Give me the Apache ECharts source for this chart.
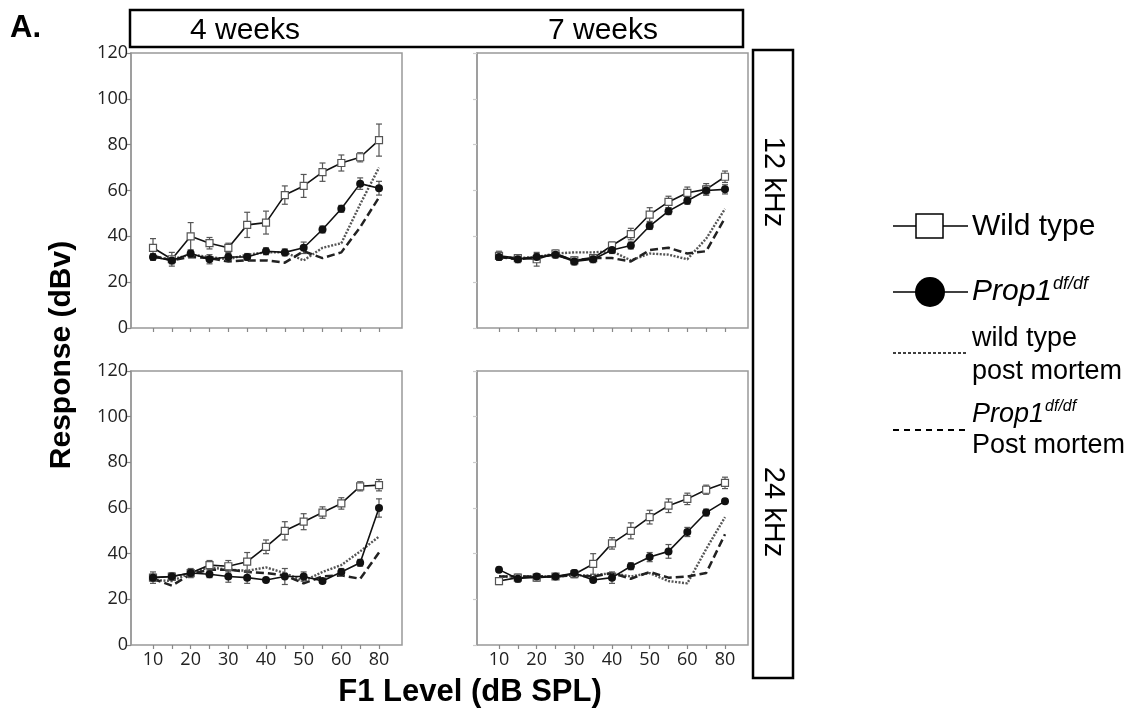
<!DOCTYPE html>
<html>
<head>
<meta charset="utf-8">
<script src="https://cdn.jsdelivr.net/npm/echarts@6/dist/echarts.min.js"></script>
<style>
  html, body { margin: 0; padding: 0; background: #fff; }
  #chart { width: 1142px; height: 717px; }
</style>
</head>
<body>
<div id="chart"></div>
<script>
// F1 levels (dB SPL) - category ticks
var levels = ['10', '15', '20', '25', '30', '35', '40', '45', '50', '55', '60', '70', '80'];
var yTicks = [0, 20, 40, 60, 80, 100, 120];

// 4 weeks, 12 kHz
var wt4w12 = [35, 30, 40, 37, 35, 45, 46, 58, 62, 68, 72, 74.5, 82];
var wt4w12Err = [4, 3, 6, 2.5, 2, 5.5, 5, 4, 5, 4, 3.5, 2, 7];
var df4w12 = [31, 29.5, 32.5, 30, 31, 31, 33.5, 33, 35, 43, 52, 63, 61];
var df4w12Err = [1.5, 1.5, 1.5, 2, 1.5, 1.5, 1.5, 1.5, 2.5, 1.5, 1.5, 2.5, 3];
var wtPm4w12 = [31, 30, 32, 31, 30, 32, 33, 33, 29.5, 35, 37, 54, 70];
var dfPm4w12 = [31.5, 29.5, 31, 30.5, 29, 29.5, 29.5, 28.5, 33.5, 30.5, 33, 44, 57];

// 7 weeks, 12 kHz
var wt7w12 = [31.5, 30.5, 30, 32.5, 29.5, 30.5, 36, 41, 49.5, 55, 59, 60.5, 66];
var wt7w12Err = [2, 1.5, 3, 1.5, 1.5, 1.5, 1.5, 2.5, 3, 2.5, 2.5, 2.5, 2.5];
var df7w12 = [31, 30, 31, 32, 29, 30, 34, 36, 44.5, 51, 55.5, 60, 60.5];
var df7w12Err = [1.5, 1.5, 1.5, 1.5, 1.5, 1.5, 1.5, 1.5, 1.5, 1.5, 1.5, 2, 2];
var wtPm7w12 = [31, 30.5, 31, 32.5, 33, 33, 33.5, 29.5, 32.5, 32, 30, 39, 52];
var dfPm7w12 = [31, 30, 31, 32, 29.5, 30.5, 30.5, 29, 34, 35, 32.5, 33.5, 48];

// 4 weeks, 24 kHz
var wt4w24 = [29.5, 30, 31.5, 35, 34.5, 36.5, 43, 50, 54, 58, 62, 69.5, 70];
var wt4w24Err = [2.5, 1.5, 2, 2, 2.5, 4, 3, 4, 3.5, 2.5, 2.5, 2, 2.5];
var df4w24 = [29.5, 30, 31.5, 31, 30, 29.5, 28.5, 30, 30, 28, 32, 36, 60];
var df4w24Err = [1.5, 1.5, 1.5, 1.5, 2.5, 2.5, 1, 3.5, 2, 1, 1.5, 1.5, 4];
var wtPm4w24 = [28.5, 28, 31.5, 34, 33, 32.5, 34, 31.5, 28, 32, 35, 41, 47.5];
var dfPm4w24 = [29, 26, 31, 33, 33, 32, 31.5, 30.5, 27, 30, 30.5, 29, 40.5];

// 7 weeks, 24 kHz
var wt7w24 = [28, 29.5, 29.5, 30, 31, 35.5, 44.5, 50, 56, 61, 64, 68, 71];
var wt7w24Err = [1.5, 1.5, 1.5, 1, 1.5, 4.5, 2.5, 3.5, 3, 3, 2.5, 2, 2.5];
var df7w24 = [33, 29, 30, 30, 31.5, 28.5, 29.5, 34.5, 38.5, 41, 49.5, 58, 63];
var df7w24Err = [1, 1.5, 1, 1, 1.5, 1, 2.5, 1.5, 2, 3, 2, 1.5, 1];
var wtPm7w24 = [30, 30, 30, 30, 30.5, 30.5, 31.5, 30, 31.5, 28, 27, 42, 56];
var dfPm7w24 = [30, 30, 30, 30, 30.5, 30, 31.5, 29, 32, 29.5, 30, 31.5, 48.5];

var panels = [
  { frame: [131, 53, 271, 275], data: [153, 226], wt: wt4w12, wtErr: wt4w12Err, df: df4w12, dfErr: df4w12Err, wtPm: wtPm4w12, dfPm: dfPm4w12, yLabels: true, xLabels: false },
  { frame: [477, 53, 271, 275], data: [499, 226], wt: wt7w12, wtErr: wt7w12Err, df: df7w12, dfErr: df7w12Err, wtPm: wtPm7w12, dfPm: dfPm7w12, yLabels: false, xLabels: false },
  { frame: [131, 371, 271, 274], data: [153, 226], wt: wt4w24, wtErr: wt4w24Err, df: df4w24, dfErr: df4w24Err, wtPm: wtPm4w24, dfPm: dfPm4w24, yLabels: true, xLabels: true },
  { frame: [477, 371, 271, 274], data: [499, 226], wt: wt7w24, wtErr: wt7w24Err, df: df7w24, dfErr: df7w24Err, wtPm: wtPm7w24, dfPm: dfPm7w24, yLabels: false, xLabels: true }
];

var tickFont = '"Open Sans", "DejaVu Sans", sans-serif';
var textFont = '"Liberation Sans", Arial, sans-serif';

function errData(vals, errs) {
  return vals.map(function (v, j) { return [j, v - errs[j], v + errs[j]]; });
}

function renderErr(params, api) {
  var lo = api.coord([api.value(0), api.value(1)]);
  var hi = api.coord([api.value(0), api.value(2)]);
  var w = 3;
  var st = { stroke: '#555', lineWidth: 1.2 };
  return {
    type: 'group',
    children: [
      { type: 'line', shape: { x1: lo[0], y1: lo[1], x2: hi[0], y2: hi[1] }, style: st },
      { type: 'line', shape: { x1: lo[0] - w, y1: lo[1], x2: lo[0] + w, y2: lo[1] }, style: st },
      { type: 'line', shape: { x1: hi[0] - w, y1: hi[1], x2: hi[0] + w, y2: hi[1] }, style: st }
    ]
  };
}

var grid = [], xAxis = [], yAxis = [], series = [];

panels.forEach(function (p, i) {
  var f = p.frame;
  // frame grid (box + y axis)
  grid.push({ left: f[0], top: f[1], width: f[2], height: f[3], show: true, borderColor: '#999', borderWidth: 1.5, backgroundColor: '#fff' });
  // data grid (points)
  grid.push({ left: p.data[0], top: f[1], width: p.data[1], height: f[3] });

  xAxis.push({ gridIndex: 2 * i, type: 'category', data: levels, show: false });
  xAxis.push({
    gridIndex: 2 * i + 1, type: 'category', data: levels, boundaryGap: false,
    axisLine: { show: false },
    axisTick: { show: true, length: 4, interval: 0, lineStyle: { color: '#888', width: 1.2 } },
    axisLabel: { show: p.xLabels, interval: 1, margin: 6, fontSize: 18, color: '#222', fontFamily: tickFont },
    splitLine: { show: false }
  });

  yAxis.push({
    gridIndex: 2 * i, type: 'value', min: 0, max: 120, interval: 20,
    axisLine: { show: true, lineStyle: { color: '#999', width: 1.5 } },
    axisTick: { show: true, length: 4, lineStyle: { color: p.yLabels ? '#888' : '#ccc', width: 1.2 } },
    axisLabel: { show: p.yLabels, margin: 3, fontSize: 18, color: '#222', fontFamily: tickFont },
    splitLine: { show: false }
  });
  yAxis.push({ gridIndex: 2 * i + 1, type: 'value', min: 0, max: 120, show: false, splitLine: { show: false } });

  var xi = 2 * i + 1, yi = 2 * i + 1;

  series.push({
    name: 'wild type post mortem', type: 'line', xAxisIndex: xi, yAxisIndex: yi, data: p.wtPm,
    symbol: 'none', lineStyle: { color: '#555', width: 2.4, type: [2, 1.5] }, z: 3
  });
  series.push({
    name: 'Prop1 post mortem', type: 'line', xAxisIndex: xi, yAxisIndex: yi, data: p.dfPm,
    symbol: 'none', lineStyle: { color: '#222', width: 2.5, type: [8, 4] }, z: 3
  });
  series.push({
    name: 'wt err', type: 'custom', xAxisIndex: xi, yAxisIndex: yi, renderItem: renderErr,
    data: errData(p.wt, p.wtErr), encode: { x: 0, y: [1, 2] }, z: 4
  });
  series.push({
    name: 'df err', type: 'custom', xAxisIndex: xi, yAxisIndex: yi, renderItem: renderErr,
    data: errData(p.df, p.dfErr), encode: { x: 0, y: [1, 2] }, z: 4
  });
  series.push({
    name: 'Wild type', type: 'line', xAxisIndex: xi, yAxisIndex: yi, data: p.wt,
    symbol: 'rect', symbolSize: 7, showAllSymbol: true,
    lineStyle: { color: '#111', width: 1.6 },
    itemStyle: { color: '#fff', borderColor: '#555', borderWidth: 1.2 }, z: 5
  });
  series.push({
    name: 'Prop1', type: 'line', xAxisIndex: xi, yAxisIndex: yi, data: p.df,
    symbol: 'circle', symbolSize: 8, showAllSymbol: true,
    lineStyle: { color: '#111', width: 1.6 },
    itemStyle: { color: '#111' }, z: 6
  });
});

var graphic = [
  { type: 'text', left: 10, top: 13, style: { text: 'A.', font: 'bold 31px ' + textFont, fill: '#000' } },
  // header box
  { type: 'rect', shape: { x: 130, y: 10, width: 613, height: 37 }, style: { fill: 'none', stroke: '#000', lineWidth: 2.5 } },
  { type: 'text', x: 245, y: 31, style: { text: '4 weeks', font: '30px ' + textFont, fill: '#000', textAlign: 'center', textVerticalAlign: 'middle' } },
  { type: 'text', x: 603, y: 31, style: { text: '7 weeks', font: '30px ' + textFont, fill: '#000', textAlign: 'center', textVerticalAlign: 'middle' } },
  // side box
  { type: 'rect', shape: { x: 753, y: 50, width: 40, height: 628 }, style: { fill: 'none', stroke: '#000', lineWidth: 2.5 } },
  { type: 'text', x: 773, y: 182, rotation: -Math.PI / 2, style: { text: '12 kHz', font: '29px ' + textFont, fill: '#000', textAlign: 'center', textVerticalAlign: 'middle' } },
  { type: 'text', x: 773, y: 512, rotation: -Math.PI / 2, style: { text: '24 kHz', font: '29px ' + textFont, fill: '#000', textAlign: 'center', textVerticalAlign: 'middle' } },
  // axis titles
  { type: 'text', x: 62, y: 355, rotation: Math.PI / 2, style: { text: 'Response (dBv)', font: 'bold 30px ' + textFont, fill: '#000', textAlign: 'center', textVerticalAlign: 'middle' } },
  { type: 'text', x: 470, y: 692, style: { text: 'F1 Level (dB SPL)', font: 'bold 31px ' + textFont, fill: '#000', textAlign: 'center', textVerticalAlign: 'middle' } },
  // legend
  { type: 'line', shape: { x1: 893, y1: 226, x2: 968, y2: 226 }, style: { stroke: '#000', lineWidth: 1.5 } },
  { type: 'rect', shape: { x: 916, y: 214, width: 27, height: 24 }, style: { fill: '#fff', stroke: '#000', lineWidth: 1.5 } },
  { type: 'text', x: 972, y: 227, style: { text: 'Wild type', font: '30px ' + textFont, fill: '#000', textVerticalAlign: 'middle' } },
  { type: 'line', shape: { x1: 893, y1: 292, x2: 968, y2: 292 }, style: { stroke: '#000', lineWidth: 1.5 } },
  { type: 'circle', shape: { cx: 930, cy: 292, r: 15 }, style: { fill: '#000' } },
  { type: 'text', x: 972, y: 292, style: {
      text: '{a|Prop1}{b|df/df}', fill: '#000', textVerticalAlign: 'middle',
      rich: { a: { font: 'italic 30px ' + textFont }, b: { font: 'italic 18px ' + textFont, verticalAlign: 'top', padding: [0, 0, 16, 1] } }
  } },
  { type: 'line', shape: { x1: 893, y1: 353, x2: 967, y2: 353 }, style: { stroke: '#000', lineWidth: 1.5, lineDash: [3, 2] } },
  { type: 'text', x: 972, y: 339, style: { text: 'wild type', font: '27px ' + textFont, fill: '#000', textVerticalAlign: 'middle' } },
  { type: 'text', x: 972, y: 372, style: { text: 'post mortem', font: '27px ' + textFont, fill: '#000', textVerticalAlign: 'middle' } },
  { type: 'line', shape: { x1: 893, y1: 430, x2: 967, y2: 430 }, style: { stroke: '#000', lineWidth: 1.8, lineDash: [6, 5] } },
  { type: 'text', x: 972, y: 414, style: {
      text: '{a|Prop1}{b|df/df}', fill: '#000', textVerticalAlign: 'middle',
      rich: { a: { font: 'italic 27px ' + textFont }, b: { font: 'italic 16px ' + textFont, verticalAlign: 'top', padding: [0, 0, 14, 1] } }
  } },
  { type: 'text', x: 972, y: 446, style: { text: 'Post mortem', font: '27px ' + textFont, fill: '#000', textVerticalAlign: 'middle' } }
];

var option = {
  backgroundColor: '#fff',
  animation: false,
  grid: grid,
  xAxis: xAxis,
  yAxis: yAxis,
  series: series,
  graphic: graphic
};

var chart = echarts.init(document.getElementById('chart'), null, { renderer: 'canvas' });
chart.setOption(option);
</script>
</body>
</html>
